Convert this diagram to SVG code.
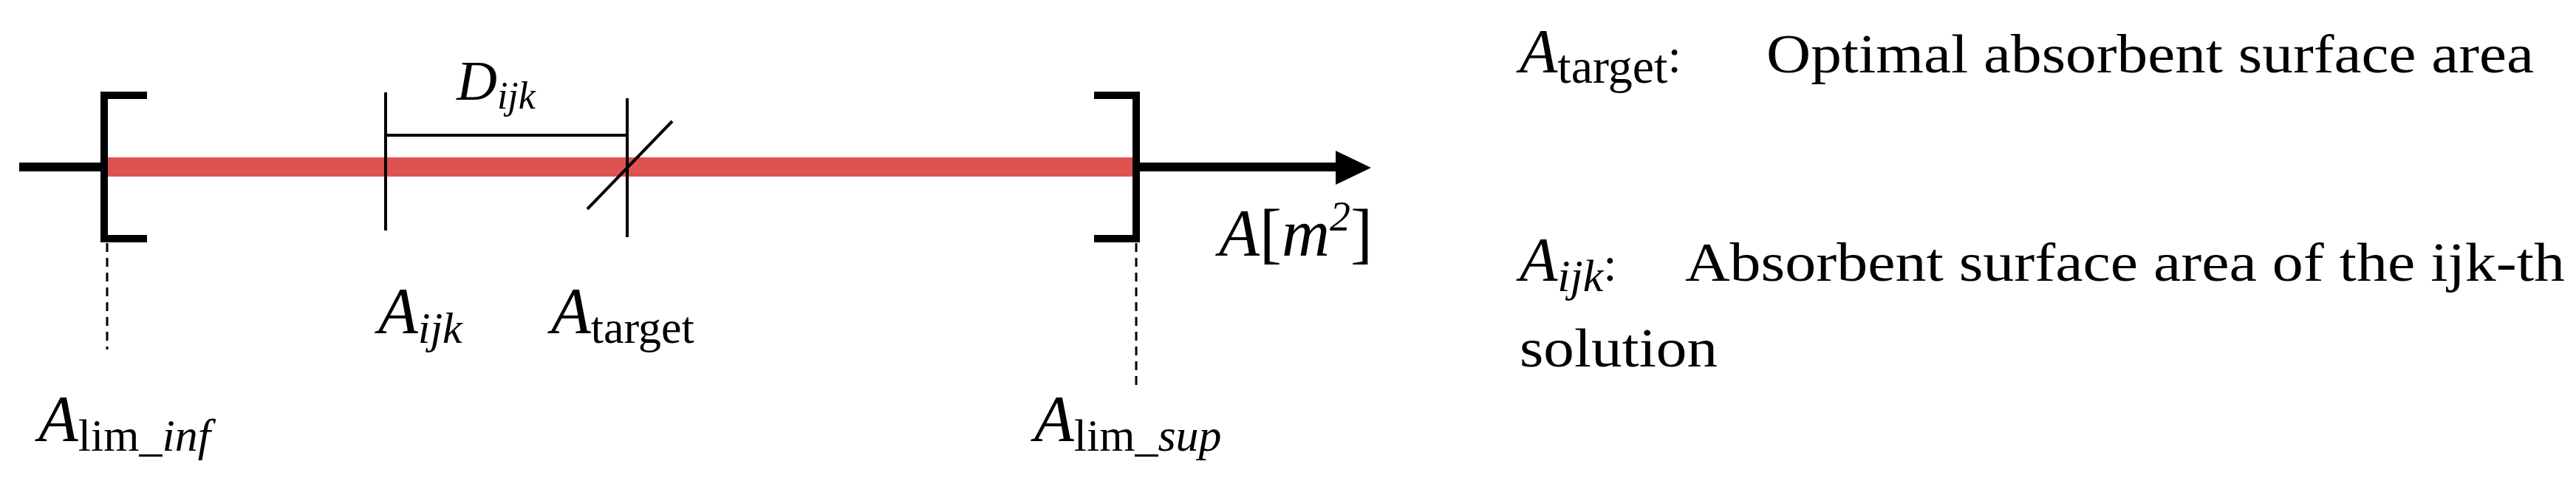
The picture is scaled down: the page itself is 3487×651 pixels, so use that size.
<svg xmlns="http://www.w3.org/2000/svg" width="3487" height="651" viewBox="0 0 3487 651">
<style>
.m{font-family:"Liberation Serif",serif;font-style:italic;fill:#000}
.u{font-family:"Liberation Serif",serif;fill:#000}
.t{font-family:"Liberation Serif",serif;fill:#000;font-size:74px}
.k{stroke:#000;fill:none}
</style>
<rect width="3487" height="651" fill="#fff"/>
<g id="axis">
<line x1="26" y1="226" x2="1815" y2="226" stroke="#000" stroke-width="12"/>
<polygon points="1808,204 1856,227 1808,250" fill="#000"/>
</g>
<g id="range"><rect x="144" y="213" width="1394" height="26" fill="#DE5252"/></g>
<g id="brackets">
<path class="k" d="M199,129 H141 V323 H199" stroke-width="10"/>
<path class="k" d="M1481,129 H1538 V323 H1481" stroke-width="10"/>
</g>
<g id="connectors">
<line class="k" x1="522" y1="125" x2="522" y2="312" stroke-width="4"/>
<line class="k" x1="849" y1="133" x2="849" y2="321" stroke-width="4"/>
<line class="k" x1="522" y1="183" x2="849" y2="183" stroke-width="4"/>
<line class="k" x1="795" y1="283" x2="910" y2="164" stroke-width="4"/>
<line class="k" x1="145" y1="329" x2="145" y2="473" stroke-width="3" stroke-dasharray="12,8"/>
<line class="k" x1="1538" y1="329" x2="1538" y2="527" stroke-width="3" stroke-dasharray="12,8"/>
</g>
<g id="labels">
<text x="618" y="135" class="m" font-size="76">D<tspan font-size="52" dy="12">ijk</tspan></text>
<text x="512" y="450" class="m" font-size="88">A<tspan font-size="60" dy="14">ijk</tspan></text>
<text x="746" y="450" class="m" font-size="88">A<tspan class="u" font-style="normal" font-size="62" dy="14">target</tspan></text>
<text x="52" y="596" class="m" font-size="88">A<tspan class="u" font-style="normal" font-size="62" dy="14">lim_</tspan><tspan font-size="62">inf</tspan></text>
<text x="1400" y="596" class="m" font-size="88">A<tspan class="u" font-style="normal" font-size="62" dy="14">lim_</tspan><tspan font-size="62">sup</tspan></text>
<text x="1650" y="346" class="m" font-size="90">A<tspan font-style="normal">[</tspan>m<tspan font-size="56" dy="-34">2</tspan><tspan font-style="normal" dy="34">]</tspan></text>
</g>
<g id="legend">
<text x="2057" y="98" class="m" font-size="84">A<tspan class="u" font-style="normal" font-size="66" dy="14">target</tspan><tspan class="u" font-style="normal" font-size="66" dy="-14">:</tspan></text>
<text x="2391" y="98" class="t" textLength="1039" lengthAdjust="spacingAndGlyphs">Optimal absorbent surface area</text>
<text x="2057" y="380" class="m" font-size="84">A<tspan font-size="62" dy="14">ijk</tspan><tspan class="u" font-style="normal" font-size="66" dy="-14">:</tspan></text>
<text x="2281" y="380" class="t" textLength="1191" lengthAdjust="spacingAndGlyphs">Absorbent surface area of the ijk-th</text>
<text x="2057" y="496" class="t" textLength="268" lengthAdjust="spacingAndGlyphs">solution</text>
</g>
</svg>
